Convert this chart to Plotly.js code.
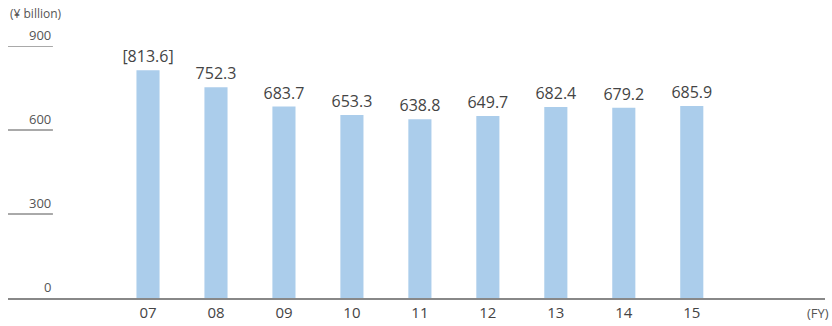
<!DOCTYPE html>
<html><head><meta charset="utf-8">
<script src="https://cdn.plot.ly/plotly-3.0.1.min.js"></script>
<style>html,body{margin:0;padding:0;background:#fff}#c{width:832px;height:326px}</style>
</head><body><div id="c"></div>
<script>
var years = ["07","08","09","10","11","12","13","14","15"];
var values = [813.6, 752.3, 683.7, 653.3, 638.8, 649.7, 682.4, 679.2, 685.9];
var valueLabels = ["[813.6]","752.3","683.7","653.3","638.8","649.7","682.4","679.2","685.9"];
var yTicks = [0, 300, 600, 900];

var font = "Open Sans, Noto Sans, sans-serif";
var shapes = [];
var annotations = [];
yTicks.forEach(function(v){
  if (v > 0) shapes.push({type:'line', xref:'paper', yref:'y', x0:0, x1:0.055, y0:v, y1:v, line:{color:'#555', width:1}});
  annotations.push({xref:'paper', yref:'y', x:0.055, y:v, text:String(v), showarrow:false, xanchor:'right', yanchor:'bottom', yshift:0, font:{family:font, size:13, color:'#555'}});
});
annotations.push({xref:'paper', yref:'paper', x:0, y:1, yshift:22, text:'(¥ billion)', showarrow:false, xanchor:'left', yanchor:'bottom', font:{family:font, size:12, color:'#555'}});
annotations.push({xref:'paper', yref:'paper', x:1, y:0, yshift:-4, xshift:6, text:'(FY)', showarrow:false, xanchor:'right', yanchor:'top', font:{family:font, size:13, color:'#555'}});

Plotly.newPlot('c', [{
  type:'bar', x: years, y: values, text: valueLabels,
  textposition:'outside', cliponaxis:false, constraintext:'none',
  textfont:{family:font, size:16, color:'#444'},
  marker:{color:'#abcdeb'}, width:0.34, hoverinfo:'none'
}], {
  width:832, height:326,
  margin:{l:8, r:7, t:46, b:28},
  paper_bgcolor:'#fff', plot_bgcolor:'#fff',
  showlegend:false,
  xaxis:{type:'category', range:[-2.06, 9.96], showline:true, linecolor:'#888', linewidth:1.5,
         ticks:'', showgrid:false, zeroline:false, tickfont:{family:font, size:15, color:'#444'}},
  yaxis:{range:[0,900], showgrid:false, zeroline:false, showticklabels:false, showline:false},
  shapes: shapes, annotations: annotations
}, {displayModeBar:false, staticPlot:true});
</script></body></html>
